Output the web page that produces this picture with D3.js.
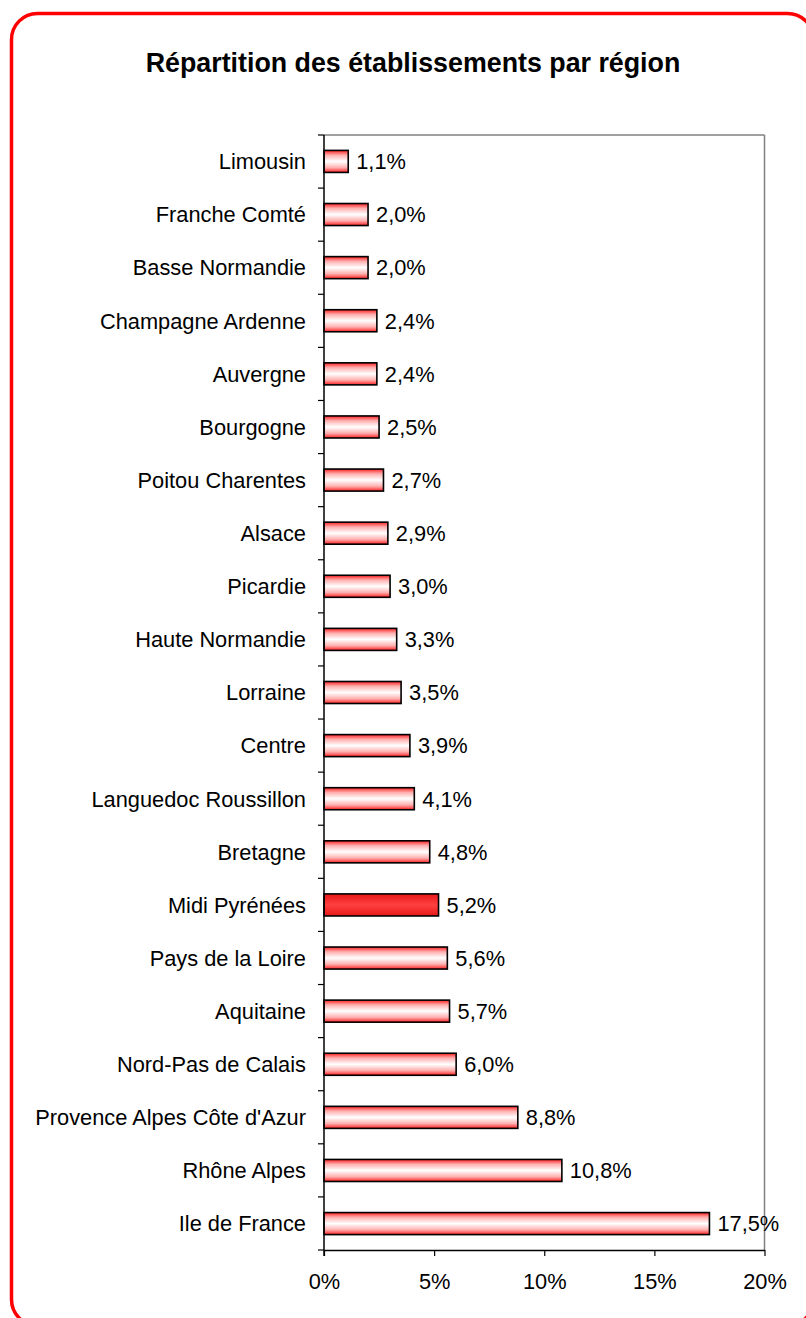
<!DOCTYPE html>
<html><head><meta charset="utf-8">
<script src="https://cdn.jsdelivr.net/npm/d3@7"></script>
<style>body{margin:0;background:#fff}svg{display:block}text{font-family:"Liberation Sans",Arial,sans-serif}</style>
</head><body>
<script>
const categories = ["Limousin","Franche Comté","Basse Normandie","Champagne Ardenne","Auvergne","Bourgogne","Poitou Charentes","Alsace","Picardie","Haute Normandie","Lorraine","Centre","Languedoc Roussillon","Bretagne","Midi Pyrénées","Pays de la Loire","Aquitaine","Nord-Pas de Calais","Provence Alpes Côte d'Azur","Rhône Alpes","Ile de France"];
const values = [1.1,2.0,2.0,2.4,2.4,2.5,2.7,2.9,3.0,3.3,3.5,3.9,4.1,4.8,5.2,5.6,5.7,6.0,8.8,10.8,17.5];
const highlighted = ["Midi Pyrénées"];
const xTicks = [0,5,10,15,20];
const title = "Répartition des établissements par région";

(function(){
const W = 806, H = 1318;
const svg = d3.select("body").append("svg").attr("width", W).attr("height", H);
const defs = svg.append("defs");
const g1 = defs.append("linearGradient").attr("id","gw").attr("x1",0).attr("y1",0).attr("x2",0).attr("y2",1);
[[0,"#ff2020"],[0.22,"#ffb0b0"],[0.5,"#ffffff"],[0.78,"#ffb0b0"],[1,"#ff2020"]].forEach(([o,c])=>g1.append("stop").attr("offset",o).attr("stop-color",c));
const g2 = defs.append("linearGradient").attr("id","gr").attr("x1",0).attr("y1",0).attr("x2",0).attr("y2",1);
[[0,"#e81818"],[0.5,"#ff4040"],[1,"#e81818"]].forEach(([o,c])=>g2.append("stop").attr("offset",o).attr("stop-color",c));

svg.append("rect").attr("x",11.5).attr("y",13.5).attr("width",802).attr("height",1312).attr("rx",26).attr("ry",26)
  .attr("fill","#fff").attr("stroke","#ff0000").attr("stroke-width",3.5);

svg.append("text").attr("x",413).attr("y",72).attr("text-anchor","middle").attr("font-size",26.8).attr("font-weight","bold").text(title);

const pLeft = 324, pRight = 764.5, pTop = 135, pBottom = 1250;
const fs = 21.8;
const x = d3.scaleLinear().domain([0,20]).range([pLeft,pRight]);
const y = d3.scaleBand().domain(categories).range([pTop,pBottom]).paddingInner(0.585).paddingOuter(0.29);
const step = (pBottom-pTop)/categories.length;

svg.append("line").attr("x1",pLeft).attr("x2",pRight).attr("y1",pTop).attr("y2",pTop).attr("stroke","#808080").attr("stroke-width",1.5);
svg.append("line").attr("x1",pRight).attr("x2",pRight).attr("y1",pTop).attr("y2",pBottom).attr("stroke","#808080").attr("stroke-width",1.5);

svg.selectAll("rect.bar").data(categories).enter().append("rect").attr("class","bar")
  .attr("x",pLeft).attr("y",d=>y(d)).attr("height",y.bandwidth())
  .attr("width",(d,i)=>x(values[i])-pLeft)
  .attr("fill",d=>highlighted.includes(d)?"url(#gr)":"url(#gw)")
  .attr("stroke","#000").attr("stroke-width",1.6);

svg.selectAll("text.val").data(categories).enter().append("text").attr("class","val")
  .attr("x",(d,i)=>x(values[i])+8).attr("y",d=>y(d)+y.bandwidth()/2).attr("dy","0.36em")
  .attr("font-size",fs).text((d,i)=>values[i].toFixed(1).replace(".",",")+"%");

const yAxisG = svg.append("g");
yAxisG.append("line").attr("x1",pLeft).attr("x2",pLeft).attr("y1",pTop).attr("y2",pBottom+6).attr("stroke","#000").attr("stroke-width",1.5);
d3.range(categories.length+1).forEach(i=>{
  yAxisG.append("line").attr("x1",pLeft-6).attr("x2",pLeft).attr("y1",pTop+i*step).attr("y2",pTop+i*step).attr("stroke","#000").attr("stroke-width",1.2);
});
yAxisG.selectAll("text").data(categories).enter().append("text")
  .attr("x",306).attr("y",d=>y(d)+y.bandwidth()/2).attr("dy","0.36em").attr("text-anchor","end")
  .attr("font-size",fs).text(d=>d);

const xa = svg.append("g").attr("transform",`translate(0,${pBottom})`)
  .call(d3.axisBottom(x).tickValues(xTicks).tickSize(6).tickSizeOuter(0).tickFormat(d=>d+"%"));
xa.select(".domain").attr("stroke","#000").attr("stroke-width",1.5);
xa.selectAll(".tick line").attr("stroke","#000").attr("stroke-width",1.2);
xa.selectAll(".tick text").attr("font-size",fs).attr("fill","#000").attr("font-family","Liberation Sans, Arial, sans-serif").attr("y",0).attr("dy","1.8em");
})();
</script>
</body></html>
